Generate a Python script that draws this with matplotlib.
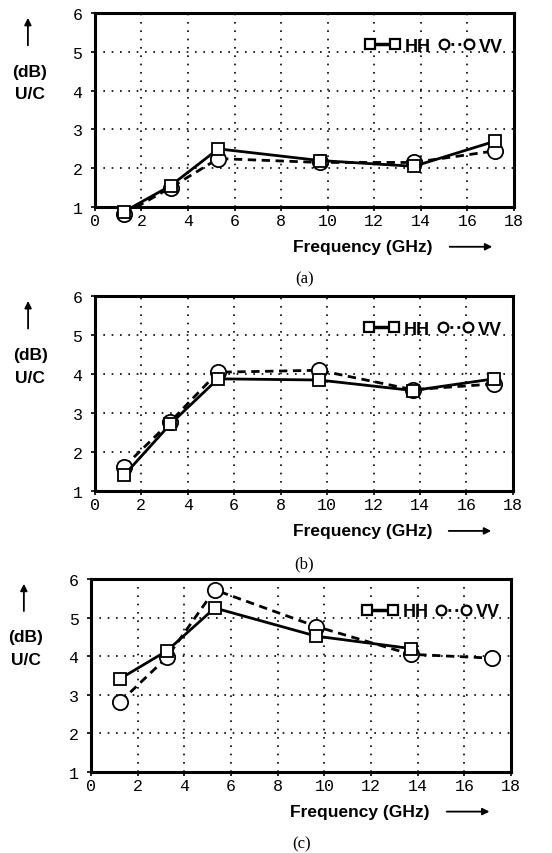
import matplotlib.pyplot as plt
from matplotlib.lines import Line2D

# frequencies (GHz) where U/C ratio was measured
freq = [1.25, 3.25, 5.3, 9.65, 13.7, 17.2]

# panel (a)
hh_a = [0.88, 1.55, 2.5, 2.2, 2.05, 2.7]
vv_a = [0.82, 1.5, 2.25, 2.15, 2.15, 2.45]
# panel (b)
hh_b = [1.4, 2.72, 3.88, 3.85, 3.58, 3.88]
vv_b = [1.62, 2.78, 4.05, 4.1, 3.6, 3.75]
# panel (c) - HH has no point at 17.2 GHz
hh_c = [3.42, 4.14, 5.25, 4.52, 4.2]
vv_c = [2.82, 3.97, 5.72, 4.77, 4.05, 3.95]

panels = [
    ('(a)', hh_a, vv_a, [0.172, 0.7564, 0.759, 0.227]),
    ('(b)', hh_b, vv_b, [0.172, 0.4239, 0.757, 0.228]),
    ('(c)', hh_c, vv_c, [0.165, 0.0948, 0.761, 0.226]),
]

xticks = [0, 2, 4, 6, 8, 10, 12, 14, 16, 18]
yticks = [1, 2, 3, 4, 5, 6]

bold = {'family': 'Liberation Sans', 'weight': 'bold'}
mono = 'Liberation Mono'

fig = plt.figure(figsize=(5.52, 8.54), dpi=100)

for cap, hh, vv, pos in panels:
    ax = fig.add_axes(pos)
    ax.plot(freq[:len(vv)], vv, color='black', lw=2, ls=(0, (3, 2)),
            marker='o', ms=11, mfc='white', mec='black', mew=1.3, clip_on=False, zorder=3)
    ax.plot(freq[:len(hh)], hh, color='black', lw=2, ls='-',
            marker='s', ms=8, mfc='white', mec='black', mew=1.3, clip_on=False, zorder=4)

    ax.set_xlim(0, 18)
    ax.set_ylim(1, 6)
    ax.set_xticks(xticks)
    ax.set_yticks(yticks)
    ax.set_xticklabels([str(t) for t in xticks], family=mono, fontsize=12)
    ax.set_yticklabels([str(t) for t in yticks], family=mono, fontsize=12)
    ax.tick_params(axis='y', direction='out', length=3, width=1.2, pad=6)
    ax.tick_params(axis='x', direction='out', length=3, width=1.2, pad=1)
    ax.grid(True, color='black', ls=(0, (1, 4)), lw=1.2)
    for s in ax.spines.values():
        s.set_linewidth(2.2)

    # legend made of line handles
    h1 = Line2D([], [], color='black', lw=2.5, marker='s', ms=7, mfc='white', mec='black', mew=1.6)
    h2 = Line2D([], [], color='black', lw=2, ls=(0, (1, 1.5)), marker='o', ms=7, mfc='white', mec='black', mew=1.6)
    ax.legend([h1, h2], ['HH', 'VV'], loc='upper right', ncol=2, frameon=False,
              numpoints=2, handlelength=2.0, handletextpad=0.25, columnspacing=0.4,
              borderaxespad=0.2, prop={'family': 'Liberation Sans', 'weight': 'bold', 'size': 13},
              bbox_to_anchor=(1.0, 0.93))

    # y label block with arrow on the left
    ax.annotate('', xy=(-0.16, 0.99), xytext=(-0.16, 0.82), xycoords='axes fraction',
                arrowprops=dict(arrowstyle='-|>', color='black', lw=1.3, mutation_scale=10))
    ax.text(-0.155, 0.70, '(dB)', transform=ax.transAxes, ha='center', va='center',
            fontsize=12.5, **bold)
    ax.text(-0.155, 0.585, 'U/C', transform=ax.transAxes, ha='center', va='center',
            fontsize=12.5, **bold)

    # x label with arrow
    ax.text(0.64, -0.205, 'Frequency (GHz)', transform=ax.transAxes, ha='center',
            va='center', fontsize=12.5, **bold)
    ax.annotate('', xy=(0.955, -0.205), xytext=(0.84, -0.205), xycoords='axes fraction',
                arrowprops=dict(arrowstyle='-|>', color='black', lw=1.3, mutation_scale=10))

    ax.text(0.5, -0.37, cap, transform=ax.transAxes, ha='center', va='center',
            fontsize=12, family='Liberation Serif')

fig.savefig('out.png', dpi=100)
